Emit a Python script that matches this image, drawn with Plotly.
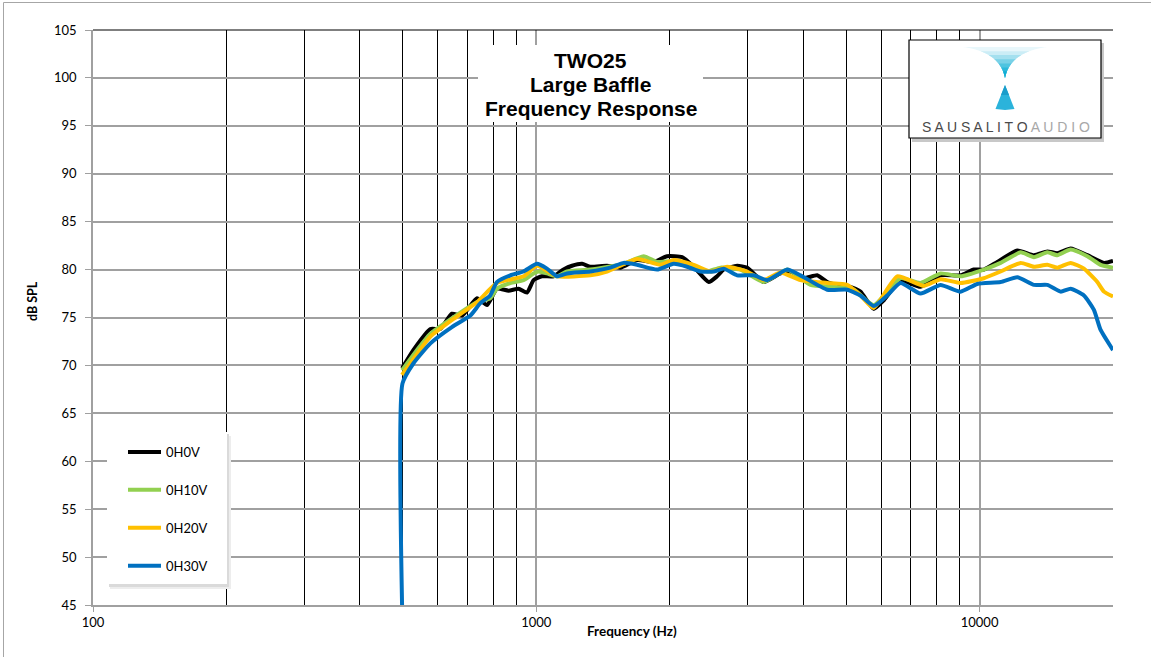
import numpy as np
import plotly.graph_objects as go

# ---------------- data ----------------
freq_0h0v = [498, 528, 577, 607, 645, 680, 735, 774, 815, 866, 912, 953, 986, 1030, 1094, 1152,
             1204, 1269, 1324, 1444, 1547, 1688, 1840, 1972, 2133, 2265, 2449, 2558, 2647, 2838,
             2990, 3260, 3554, 3745, 4013, 4302, 4532, 4940, 5115, 5387, 5771, 6081, 6632, 7358,
             8166, 9061, 9707, 10226, 10965, 12166, 13265, 14215, 14979, 16050, 17506, 19080, 20000]
db_0h0v = [69.7, 71.6, 73.8, 73.8, 75.4, 75.2, 77.0, 76.3, 78.0, 77.8, 78.0, 77.6, 78.9, 79.3, 79.3, 80.0,
           80.4, 80.6, 80.3, 80.4, 80.2, 81.0, 80.8, 81.4, 81.3, 80.3, 78.7, 79.3, 80.0, 80.4,
           80.2, 78.7, 79.6, 79.8, 79.1, 79.4, 78.7, 78.2, 78.2, 77.7, 75.9, 76.8, 78.9, 78.2,
           79.4, 79.4, 80.0, 80.0, 80.8, 82.0, 81.5, 81.9, 81.7, 82.2, 81.5, 80.7, 80.9]

freq_0h10v = [498, 528, 577, 645, 735, 787, 815, 874, 936, 986, 1012, 1057, 1114, 1173, 1324, 1574,
              1747, 1873, 2041, 2227, 2429, 2602, 2888, 3260, 3681, 4155, 4690, 5204, 5771, 6632,
              7358, 8166, 9061, 10226, 11154, 12379, 13265, 14215, 14979, 16050, 17506, 18755, 20000]
db_0h10v = [69.5, 71.1, 73.3, 74.9, 76.6, 77.0, 78.0, 78.6, 78.9, 79.6, 79.8, 79.6, 79.3, 79.8, 80.0, 80.6,
            81.4, 80.8, 80.9, 80.3, 79.8, 80.2, 80.0, 78.7, 80.0, 78.4, 78.2, 77.9, 76.3, 79.1,
            78.6, 79.6, 79.3, 80.0, 80.7, 81.8, 81.3, 81.8, 81.5, 82.1, 81.4, 80.5, 80.2]

freq_0h20v = [498, 577, 662, 735, 815, 936, 1004, 1114, 1324, 1444, 1688, 1905, 2041, 2265, 2471,
              2695, 2990, 3260, 3554, 3944, 4532, 5028, 5387, 5771, 6519, 7486, 8166, 9061, 10226,
              11154, 12379, 13265, 14215, 14979, 16050, 17198, 18437, 19080, 20000]
db_0h20v = [69.0, 73.0, 75.1, 76.6, 78.6, 79.3, 80.4, 79.3, 79.4, 79.8, 81.1, 80.5, 81.0, 80.5, 79.8,
            80.3, 79.8, 78.9, 79.7, 78.9, 78.6, 78.4, 77.3, 76.0, 79.3, 78.3, 79.0, 78.6, 79.1,
            79.8, 80.7, 80.3, 80.5, 80.2, 80.7, 80.1, 78.7, 77.7, 77.2]

freq_0h30v = [498, 499, 528, 577, 645, 710, 748, 787, 815, 874, 936, 1004, 1057, 1114, 1173, 1324,
              1469, 1574, 1688, 1873, 2041, 2189, 2346, 2513, 2647, 2838, 3094, 3318, 3681, 3944,
              4532, 5028, 5387, 5771, 6188, 6632, 7358, 8166, 9061, 9880, 11154, 12166, 13265,
              14215, 15236, 16050, 17198, 18113, 18755, 20000]
db_0h30v = [45.0, 68.1, 70.2, 72.3, 74.0, 75.2, 76.5, 77.3, 78.7, 79.4, 79.8, 80.6, 80.1, 79.3, 79.6, 79.8,
            80.2, 80.7, 80.5, 80.0, 80.6, 80.3, 79.8, 79.8, 80.1, 79.4, 79.4, 78.9, 80.0, 79.4,
            77.9, 77.9, 77.3, 76.2, 77.3, 78.6, 77.5, 78.4, 77.7, 78.5, 78.7, 79.2, 78.4,
            78.4, 77.7, 78.0, 77.3, 75.8, 73.7, 71.6]

series_names = ["0H0V", "0H10V", "0H20V", "0H30V"]
series_colors = ["#000000", "#92D050", "#FFC000", "#0070C0"]

x_tick_vals = [100, 1000, 10000]
x_tick_text = ["100", "1000", "10000"]
x_minor_vals = [200, 300, 400, 500, 600, 700, 800, 900,
                2000, 3000, 4000, 5000, 6000, 7000, 8000, 9000, 20000]
y_tick_vals = list(range(45, 106, 5))

title_lines = ["TWO25", "Large Baffle", "Frequency Response"]

# ---------------- layout helpers ----------------
W, H = 1151, 657
L, R, T, B = 93, 1113, 30, 605


def px(x):
    return (x - L) / (R - L)


def py(y):
    return (B - y) / (B - T)


def path_from(points):
    return "M " + " L ".join(f"{px(x):.5f},{py(y):.5f}" for x, y in points) + " Z"


def rect(x0, y0, x1, y1, fill, line_color=None, line_width=0, layer="above"):
    return dict(type="rect", xref="paper", yref="paper",
                x0=px(x0), x1=px(x1), y0=py(y1), y1=py(y0),
                fillcolor=fill, layer=layer,
                line=dict(color=line_color or fill, width=line_width))


fig = go.Figure()

all_freq = [freq_0h0v, freq_0h10v, freq_0h20v, freq_0h30v]
all_db = [db_0h0v, db_0h10v, db_0h20v, db_0h30v]
for i, (name, f, d, c) in enumerate(zip(series_names, all_freq, all_db, series_colors)):
    fig.add_trace(go.Scatter(
        x=f, y=d, name=name, mode="lines",
        line=dict(color=c, width=4, shape="spline", smoothing=0.5),
        legendgroup=f"g{i}", hoverinfo="x+y+name"))

shapes = []

# outer chart border (top and left visible)
shapes.append(dict(type="line", xref="paper", yref="paper",
                   x0=px(3.5), x1=px(1151), y0=py(2.5), y1=py(2.5),
                   line=dict(color="#A6A6A6", width=1), layer="below"))
shapes.append(dict(type="line", xref="paper", yref="paper",
                   x0=px(3.5), x1=px(3.5), y0=py(2.5), y1=py(657),
                   line=dict(color="#A6A6A6", width=1), layer="below"))
# top line of plot area
shapes.append(dict(type="line", xref="paper", yref="paper", x0=0, x1=1, y0=1, y1=1,
                   line=dict(color="#000000", width=1.2), layer="above"))

# legend box with soft shadow
shapes.append(rect(110, 436, 231, 589, "#EDEDED"))
shapes.append(rect(109, 434, 229, 587, "#DADADA"))
shapes.append(rect(107, 432, 227, 584, "#FFFFFF"))

# logo box with shadow
shapes.append(rect(912, 43, 1104, 142, "#C8C8C8"))
shapes.append(rect(909, 40, 1101, 138, "#FFFFFF", "#000000", 1.2))


# logo funnel (layered to mimic gradient)
def bez(p0, p1, p2, t):
    return ((1 - t) ** 2 * p0[0] + 2 * (1 - t) * t * p1[0] + t ** 2 * p2[0],
            (1 - t) ** 2 * p0[1] + 2 * (1 - t) * t * p1[1] + t ** 2 * p2[1])


ts = np.linspace(0, 1, 60)
left_curve = [bez((963, 47), (1000, 52), (1005, 78), t) for t in ts]
right_curve = [bez((1047, 47), (1010, 52), (1005, 78), t) for t in ts]
funnel_layers = [(47, "#E8F7FB"), (51, "#CBEDF6"), (55, "#A4E0EF"), (59, "#78D1E7"),
                 (63, "#4EC4E0"), (67, "#2BB8DA"), (71, "#12AFD5")]
for ymin, col in funnel_layers:
    lp = [p for p in left_curve if p[1] >= ymin]
    rp = [p for p in right_curve if p[1] >= ymin][::-1]
    shapes.append(dict(type="path", xref="paper", yref="paper", path=path_from(lp + rp),
                       fillcolor=col, line=dict(width=0), layer="above"))
# logo triangle
shapes.append(dict(type="path", xref="paper", yref="paper",
                   path=path_from([(1005, 85), (995.5, 109), (1005, 110), (1014.5, 109)]),
                   fillcolor="#2BB3DB", line=dict(width=0), layer="above"))
shapes.append(dict(type="path", xref="paper", yref="paper",
                   path=path_from([(1005, 85), (1001, 95), (1009, 95)]),
                   fillcolor="#1A9DCB", line=dict(width=0), layer="above"))

# title box
shapes.append(rect(478, 45, 703, 122, "#FFFFFF"))

annotations = []
for line_text, ypix in zip(title_lines, [60, 84.5, 108]):
    annotations.append(dict(
        xref="paper", yref="paper", x=px(590.5), y=py(ypix), xanchor="center", yanchor="middle",
        text=f"<b>{line_text}</b>", showarrow=False,
        font=dict(family="Liberation Sans, Arial", size=21, color="#000000")))
annotations.append(dict(
    xref="paper", yref="paper", x=px(1005.5), y=py(127), xanchor="center", yanchor="middle",
    text="<span style='color:#4A4A4A'>S A U S A L I T O</span> "
         "<span style='color:#A8A8A8'>A U D I O</span>",
    showarrow=False, font=dict(family="Liberation Sans, Arial", size=14)))
annotations.append(dict(
    xref="paper", yref="paper", x=px(32), y=py(301), xanchor="center", yanchor="middle",
    text="<b>dB SPL</b>", textangle=-90, showarrow=False,
    font=dict(family="Lato", size=12.5, color="#000000")))
annotations.append(dict(
    xref="paper", yref="paper", x=px(632), y=py(631), xanchor="center", yanchor="middle",
    text="<b>Frequency (Hz)</b>", showarrow=False,
    font=dict(family="Lato", size=13.5, color="#000000")))

fig.update_layout(
    width=W, height=H,
    margin=dict(l=L, r=W - R, t=T, b=H - B),
    paper_bgcolor="#FFFFFF", plot_bgcolor="#FFFFFF",
    showlegend=True,
    legend=dict(x=px(123), y=py(437), xanchor="left", yanchor="top",
                bgcolor="rgba(0,0,0,0)", font=dict(family="Lato", size=13, color="#000000"),
                tracegroupgap=18, itemwidth=33),
    shapes=shapes, annotations=annotations,
    xaxis=dict(type="log", range=[2, np.log10(20000)],
               tickvals=x_tick_vals, ticktext=x_tick_text,
               showgrid=True, gridcolor="#A0A0A0", gridwidth=1.5,
               showline=True, linecolor="#A0A0A0", linewidth=1.5,
               ticks="outside", ticklen=5, tickcolor="#A0A0A0",
               tickfont=dict(family="Lato", size=13, color="#000000"),
               minor=dict(tickvals=x_minor_vals, showgrid=True, gridcolor="#000000",
                          gridwidth=1.2, ticks=""),
               zeroline=False),
    yaxis=dict(range=[45, 105], tickvals=y_tick_vals,
               showgrid=True, gridcolor="#A0A0A0", gridwidth=1.5,
               showline=True, linecolor="#A0A0A0", linewidth=1.5,
               ticks="outside", ticklen=6, tickcolor="#A0A0A0",
               ticklabelstandoff=6,
               tickfont=dict(family="Lato", size=13, color="#000000"),
               zeroline=False),
)

fig.write_html("out.html")
